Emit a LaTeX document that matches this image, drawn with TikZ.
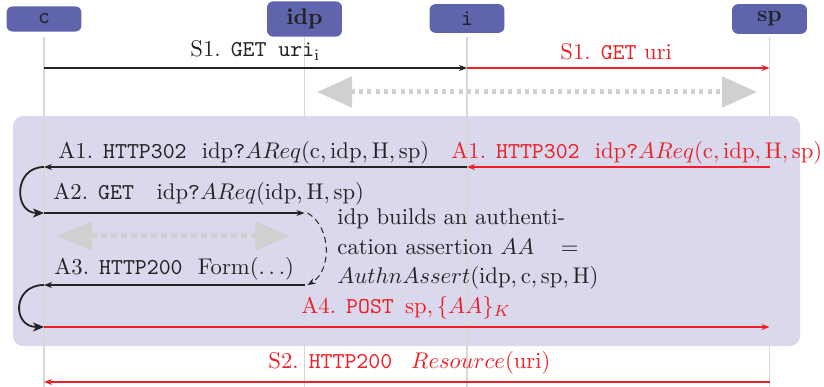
\documentclass[tikz,border=0pt]{standalone}
\usetikzlibrary{arrows.meta}
\definecolor{hdr}{RGB}{96,100,172}
\definecolor{panel}{RGB}{217,216,236}
\definecolor{life}{RGB}{216,216,216}
\definecolor{msgred}{RGB}{236,32,38}
\definecolor{ink}{RGB}{35,35,35}
\definecolor{hint}{RGB}{208,208,208}
\begin{document}
\begin{tikzpicture}[x=1pt,y=-1pt,
  font=\fontsize{10}{12.8}\selectfont,
  every node/.append style={scale=2.27},
  header/.style={fill=hdr, rounded corners=6pt, minimum width=33pt,
    inner xsep=1.8pt, inner ysep=3.3pt, text=ink},
  lifeline/.style={draw=life, line width=1.4pt},
  msg/.style={draw=ink, line width=1.2pt,
    -{Stealth[length=8pt,width=6pt,inset=2.5pt]}},
  redmsg/.style={msg, draw=msgred},
  lbl/.style={anchor=base west, inner sep=0pt, text=ink},
  redlbl/.style={lbl, text=msgred},
  selfloop/.style={draw=ink, line width=1.8pt,
    -{Stealth[length=11pt,width=9pt,inset=3pt]}},
  assertline/.style={draw=ink, line width=1pt, dash pattern=on 6pt off 4pt,
    -{Stealth[length=8pt,width=6pt,inset=2.5pt]}},
  hintarrow/.style={draw=hint, line cap=butt, line width=5pt,
    dash pattern=on 4pt off 4.3pt,
    {Triangle[length=35pt,width=30pt]}-{Triangle[length=35pt,width=30pt]}},
]
\useasboundingbox (0,0) rectangle (824,387);

% authentication phase panel
\fill[panel, rounded corners=10pt] (13,116) rectangle (800,346);

% participants
\node[header] (c)   at (44,19)    {\texttt{c}};
\node[header] (idp) at (304.5,19) {\textbf{idp}};
\node[header] (i)   at (467,18.5) {\texttt{i}};
\node[header] (sp)  at (769.5,19) {\textbf{sp}};

% lifelines
\foreach \p in {c,idp,i,sp}{
  \coordinate (\p top) at (\p |- 0,37);
  \coordinate (\p bot) at (\p |- 0,387);
  \draw[lifeline] (\p top) -- (\p bot);
}

% event points on the lifelines
\coordinate (cS1) at (c |- 0,68);   \coordinate (iS1) at (i |- 0,68);
\coordinate (spS1) at (sp |- 0,68);
\coordinate (cA1) at (c |- 0,167);  \coordinate (iA1) at (i |- 0,167);
\coordinate (spA1) at (sp |- 0,167);
\coordinate (cA2) at (c |- 0,213);  \coordinate (idpA2) at (idp |- 0,213);
\coordinate (cA3) at (c |- 0,285);  \coordinate (idpA3) at (idp |- 0,285);
\coordinate (cA4) at (c |- 0,327);  \coordinate (spA4) at (sp |- 0,327);
\coordinate (cS2) at (c |- 0,382);  \coordinate (spS2) at (sp |- 0,382);

% intercepted traffic hints
\coordinate (h1l) at (317,92);  \coordinate (h1r) at (757,92);
\coordinate (h2l) at (57,236);  \coordinate (h2r) at (290,236);
\draw[hintarrow] (h1l) -- (h1r);
\draw[hintarrow, dash pattern=on 6pt off 4pt,
  {Triangle[length=35pt,width=28pt]}-{Triangle[length=35pt,width=28pt]}] (h2l) -- (h2r);

% S1
\draw[msg] (cS1) -- (iS1);
\draw[redmsg] (iS1) -- (spS1);
\node[lbl] (lS1) at (190,57) {S1. \texttt{GET uri}$_{\mathrm{i}}$};
\node[redlbl] (lS1r) at (560,60) {S1. \texttt{GET} uri};

% A1
\draw[msg] (iA1) -- (cA1);
\draw[redmsg] (spA1) -- (iA1);
\node[lbl] (lA1) at (58,159)
  {A1. \texttt{HTTP302}\ \ idp\texttt{?}$AReq(\mathrm{c},\mathrm{idp},\mathrm{H},\mathrm{sp})$};
\node[redlbl] (lA1r) at (451,159)
  {A1. \texttt{HTTP302}\ \ idp\texttt{?}$AReq(\mathrm{c},\mathrm{idp},\mathrm{H},\mathrm{sp})$};

% A2
\draw[selfloop] (cA1) to[out=180,in=180,looseness=1.7] (cA2);
\draw[msg] (cA2) -- (idpA2);
\node[lbl] (lA2) at (53,200)
  {A2. \texttt{GET}\quad idp\texttt{?}$AReq(\mathrm{idp},\mathrm{H},\mathrm{sp})$};

% assertion built by idp
\draw[assertline] ([xshift=3pt]idpA2) to[out=-30,in=30] ([xshift=3pt]idpA3);
\node[anchor=base west, inner sep=0pt, text=ink, align=left, text width=106.2pt]
  (build) at (337,225)
  {idp builds an authenti-\\
   cation assertion $AA$\hfill$=$\\
   $AuthnAssert(\mathrm{idp},\mathrm{c},\mathrm{sp},\mathrm{H})$};

% A3
\draw[msg] (idpA3) -- (cA3);
\node[lbl] (lA3) at (54,275) {A3. \texttt{HTTP200}\ \ Form$(\ldots)$};

% A4
\draw[selfloop] (cA3) to[out=180,in=180,looseness=1.95] (cA4);
\draw[redmsg] (cA4) -- (spA4);
\node[redlbl] (lA4) at (301,313) {A4. \texttt{POST}\enspace sp$,\{AA\}_K$};

% S2
\draw[redmsg] (spS2) -- (cS2);
\node[redlbl] (lS2) at (268,368)
  {S2. \texttt{HTTP200}\ \ \,$Resource(\mathrm{uri})$};
\end{tikzpicture}
\end{document}
